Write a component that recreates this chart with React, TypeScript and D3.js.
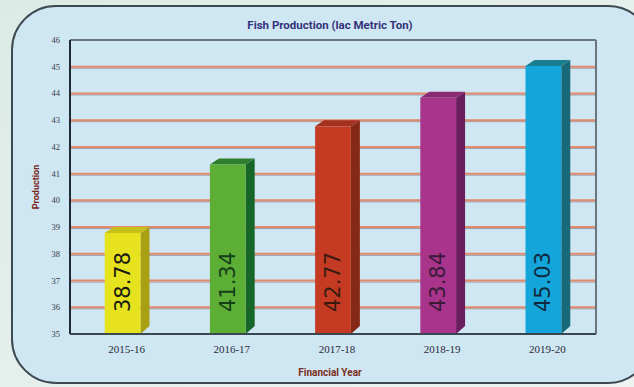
import React from "react";
import * as d3 from "d3";

const categories = ["2015-16", "2016-17", "2017-18", "2018-19", "2019-20"];
const values = [38.78, 41.34, 42.77, 43.84, 45.03];
const valueLabels = ["38.78", "41.34", "42.77", "43.84", "45.03"];
const yTicks = [35, 36, 37, 38, 39, 40, 41, 42, 43, 44, 45, 46];
const frontColors = ["#e6e21e", "#5cae34", "#c43a22", "#a8348c", "#14a6da"];
const sideColors = ["#a8a012", "#16662a", "#862816", "#6a1e5e", "#186a7a"];
const topColors = ["#c8c01a", "#2e7e2e", "#a43020", "#8a2a74", "#1a7e90"];
const labelColors = ["#1a1a10", "#14401a", "#3a1a10", "#3a1a38", "#102a40"];

const W = 634, H = 387;
const M = { left: 70, right: 596, top: 40, bottom: 334 };

export default function App() {
  const x = d3.scaleBand<string>().domain(categories).range([M.left, M.right]).paddingInner(0.66).paddingOuter(0.33);
  const y = d3.scaleLinear().domain([35, 46]).range([M.bottom, M.top]);
  const dx = 9, dy = -6;
  const bw = x.bandwidth();
  return (
    <svg width={W} height={H} style={{ position: "absolute", left: 0, top: 0, fontFamily: "'Open Sans', 'DejaVu Sans', sans-serif" }}>
      <defs>
        <linearGradient id="bg" x1="0" y1="0" x2="1" y2="1">
          <stop offset="0" stopColor="#dcebe6" />
          <stop offset="1" stopColor="#eef3f1" />
        </linearGradient>
      </defs>
      <rect x={0} y={0} width={W} height={H} fill="url(#bg)" />
      <rect x={12} y={6} width={640} height={377} rx={44} ry={44} fill="#cfe6f3" stroke="#3e4a52" strokeWidth={2} />
      <text x={330} y={29} textAnchor="middle" fontSize={11.5} fontWeight="bold" fill="#33337a" fontFamily="'Liberation Sans Narrow', 'Roboto', sans-serif">Fish Production (lac Metric Ton)</text>
      {/* gridlines */}
      {yTicks.filter(t => t > 35 && t < 46).map(t => (
        <g key={t}>
          <line x1={M.left} x2={M.right} y1={y(t) + 1.5} y2={y(t) + 1.5} stroke="#9a9aa4" strokeWidth={1} />
          <line x1={M.left} x2={M.right} y1={y(t)} y2={y(t)} stroke="#e48a6c" strokeWidth={2} />
        </g>
      ))}
      {/* plot frame */}
      <line x1={M.left} x2={M.right} y1={M.top} y2={M.top} stroke="#6a767e" strokeWidth={2} />
      <line x1={M.right} x2={M.right} y1={M.top} y2={M.bottom} stroke="#6a767e" strokeWidth={2} />
      {/* bars */}
      {categories.map((c, i) => {
        const x0 = x(c)!;
        const x1 = x0 + bw;
        const yt = y(values[i]);
        const yb = M.bottom;
        return (
          <g key={c}>
            <path d={`M${x1},${yt} L${x1 + dx},${yt + dy} L${x1 + dx},${yb - 8} L${x1},${yb} Z`} fill={sideColors[i]} />
            <path d={`M${x0},${yt} L${x0 + dx},${yt + dy} L${x1 + dx},${yt + dy} L${x1},${yt} Z`} fill={topColors[i]} />
            <rect x={x0} y={yt} width={bw} height={yb - yt} fill={frontColors[i]} />
            <text transform={`translate(${x0 + bw / 2 + 7},${282}) rotate(-90)`} textAnchor="middle" fontSize={21} fill={labelColors[i]} fontFamily="'DejaVu Sans', sans-serif">{valueLabels[i]}</text>
          </g>
        );
      })}
      {/* axes */}
      <line x1={M.left} x2={M.left} y1={M.top} y2={M.bottom} stroke="#1e2a36" strokeWidth={2} />
      <line x1={M.left} x2={M.right} y1={M.bottom} y2={M.bottom} stroke="#3a4650" strokeWidth={2} />
      {yTicks.map(t => (
        <text key={t} x={M.left - 10} y={y(t)} dy="0.35em" textAnchor="end" fontSize={8.5} fill="#3a3a44" fontFamily="'Liberation Serif', serif">{t}</text>
      ))}
      {categories.map(c => (
        <text key={c} x={x(c)! + bw / 2 + 4} y={353} textAnchor="middle" fontSize={11} fill="#2a2a38" fontFamily="'Liberation Serif', serif">{c}</text>
      ))}
      <text transform={`translate(39,${187}) rotate(-90)`} textAnchor="middle" fontSize={9} fontWeight="bold" fill="#7a2418" fontFamily="'Liberation Sans Narrow', 'Roboto', sans-serif">Production</text>
      <text x={330} y={376} textAnchor="middle" fontSize={10} fontWeight="bold" fill="#7a2e20" fontFamily="'Liberation Sans Narrow', 'Roboto', sans-serif">Financial Year</text>
    </svg>
  );
}
